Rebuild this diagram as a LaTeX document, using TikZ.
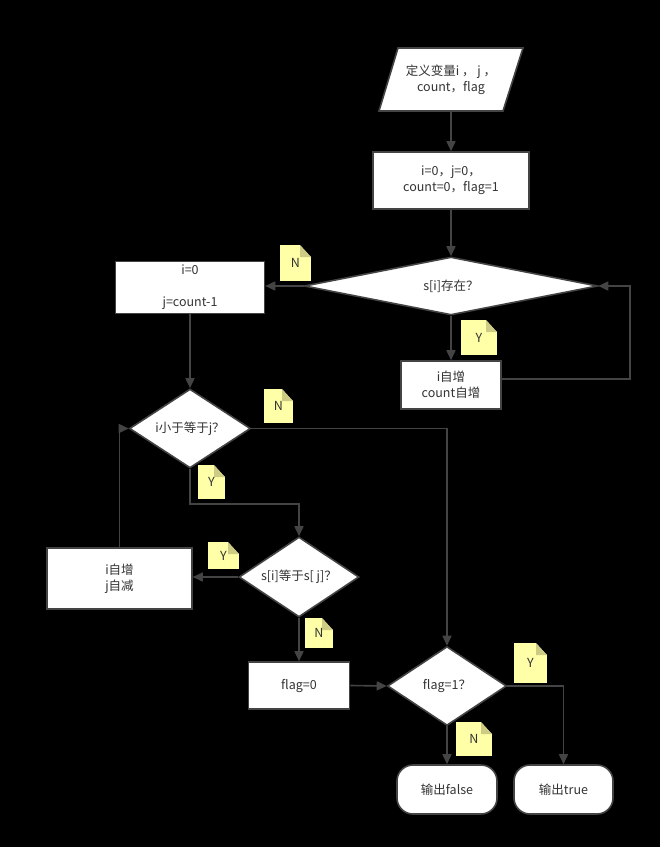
\documentclass[tikz,border=0pt]{standalone}
\usepackage{fontspec}
\setmainfont{Noto Sans CJK SC}
\usepackage{xcolor}
\usetikzlibrary{arrows.meta,calc,positioning,shapes.geometric}
\definecolor{linegray}{RGB}{68,68,68}
\definecolor{txtgray}{RGB}{51,51,51}
\definecolor{notey}{RGB}{255,255,168}
\definecolor{notef}{RGB}{206,203,132}
\begin{document}
\begin{tikzpicture}[x=1pt,y=-1pt,>={Triangle[length=10pt,width=9pt]},
  box/.style={rectangle,draw=linegray,line width=1.6pt,fill=white,text=txtgray,align=center,inner sep=2pt},
  dec/.style={diamond,draw=linegray,line width=1.6pt,fill=white,text=txtgray,inner sep=0pt,aspect=2},
  term/.style={box,rounded corners=16pt},
  flow/.style={->,draw=linegray,line width=1.6pt},
  note/.style={fill=notey,inner sep=0pt,text=txtgray,
    path picture={
      \fill[black] ([xshift=-11pt]path picture bounding box.north east) -- (path picture bounding box.north east)
        -- ([yshift=-12pt]path picture bounding box.north east) -- cycle;
      \fill[notef] ([xshift=-11pt]path picture bounding box.north east) -- ([yshift=-12pt]path picture bounding box.north east)
        -- ([xshift=-11pt,yshift=-12pt]path picture bounding box.north east) -- cycle;}},
  every node/.append style={font=\fontsize{12.5}{16}\selectfont}]
\fill[black] (0,0) rectangle (660,847);
\useasboundingbox (0,0) rectangle (660,847);
% input
\fill[white,draw=linegray,line width=1.6pt] (379,111) -- (503,111) -- (523,48) -- (398,48) -- cycle;
\node[text=txtgray,align=center,minimum width=100pt,minimum height=63pt,inner sep=0pt] (in) at (451,79.5) {定义变量i ， j ，\\count，flag};
\node[box,minimum width=156pt,minimum height=57pt] (init) at (451,180.5) {i=0，j=0，\\count=0，flag=1};
\node[dec,minimum width=293pt,minimum height=58pt] (d1) at (451,286) {s[i]存在？};
\node[box,minimum width=149pt,minimum height=52pt] (setij) at (190,287.5) {i=0\\~\\j=count-1};
\node[box,minimum width=100pt,minimum height=48pt] (inc) at (451,385) {i自增\\count自增};
\node[dec,minimum width=121pt,minimum height=79pt] (d2) at (190,428.5) {i小于等于j？};
\node[dec,minimum width=120pt,minimum height=80pt] (d3) at (299,577) {s[i]等于s[ j]？};
\node[box,minimum width=145pt,minimum height=61pt] (incdec) at (119.5,578.5) {i自增\\j自减};
\node[box,minimum width=101pt,minimum height=47pt] (flag0) at (299,685.5) {flag=0};
\node[dec,minimum width=119pt,minimum height=79pt] (d4) at (447,686) {flag=1？};
\node[term,minimum width=100pt,minimum height=49pt] (outf) at (447,789.5) {输出false};
\node[term,minimum width=99pt,minimum height=49pt] (outt) at (563.5,789.5) {输出true};
\coordinate (loop) at (630,330);
% connectors
\draw[flow] (in.south) -- (init);
\draw[flow] (init) -- (d1);
\draw[flow] (d1.west) -- (d1.west -| setij.east);
\draw[flow] (d1) -- (inc);
\draw[flow] ([yshift=6pt]inc.east) -| (loop) |- (d1.east);
\draw[flow] (setij) -- (d2);
\draw[flow] (d2.east) -| (d4.north);
\draw[flow] (d2.south) -- ++(0,35) -| (d3.north);
\draw[flow] (d3.west) -- (d3.west -| incdec.east);
\draw[flow] (incdec.north) |- (d2.west);
\draw[flow] (d3.south) -- (d3.south |- flag0.north);
\draw[flow] (flag0.east) -- (d4.west);
\draw[flow] (d4.east) -| (outt.north);
\draw[flow] (d4) -- (outf);
% notes
\foreach \x/\y/\w/\h/\t [count=\i] in {280/245/31/36/N,461/320/36/35/Y,264/389/29/34/N,198/465/27/34/Y,
  208/542/31/27/Y,305/618/28/30/N,514/643/33/40/Y,456/722/36/34/N}
  \node[note,minimum width=\w pt,minimum height=\h pt] (note\i) at (\x+\w/2,\y+\h/2) {\t};
\end{tikzpicture}
\end{document}
